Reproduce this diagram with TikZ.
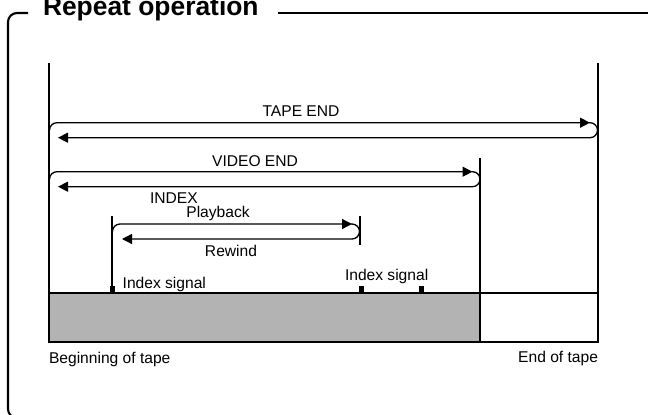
\documentclass[tikz,border=0pt]{standalone}
\usepackage{fontspec}
\setmainfont{Liberation Sans}
\usetikzlibrary{arrows.meta}
\definecolor{tapegray}{RGB}{179,179,179}
\begin{document}
\begin{tikzpicture}[x=1pt,y=-1pt,every node/.style={font=\fontsize{15.6}{18}\selectfont, inner sep=0pt, outer sep=0pt, anchor=base},
  frame/.style={line width=2.1pt},
  post/.style={line width=1.8pt},
  run/.style={line width=1.3pt, rounded corners=7.5pt, -{Triangle[length=10pt,width=10pt]}},
  sigmark/.style={fill=black}]
\useasboundingbox (0,0) rectangle (648,415);
\begin{scope}
\clip (0,0) rectangle (648,415);
\draw[frame,rounded corners=9pt] (28,13) -- (8,13) -- (8,418) -- (660,418);
\draw[frame] (278,13) -- (660,13);
\node[anchor=base west,font=\fontsize{26.4}{30}\selectfont\bfseries] (title) at (43,15) {Repeat operation};
\end{scope}
\fill[tapegray] (49,293) rectangle (480,342);
\draw[post] (49,293) rectangle (598,342);
\draw[post] (49,63) -- (49,342);
\draw[post] (598,63) -- (598,342);
\draw[post] (480,158) -- (480,342);
\draw[post] (112,216) -- (112,293);
\draw[post] (360,216) -- (360,245);
\fill[sigmark] (109.5,286) rectangle (114.5,293);
\fill[sigmark] (358.5,286) rectangle (363.5,293);
\fill[sigmark] (418.5,286) rectangle (423.5,293);
\draw[run] (49.5,130.2) -- (49.5,122.7) -- (590,122.7);
\draw[run] (589,122.7) -- (597.5,122.7) -- (597.5,137.7) -- (58,137.7);
\draw[run] (49.5,179.2) -- (49.5,171.7) -- (472.5,171.7);
\draw[run] (471.5,171.7) -- (480,171.7) -- (480,186.7) -- (58,186.7);
\draw[run] (112.5,231.5) -- (112.5,224) -- (352,224);
\draw[run] (351,224) -- (359.5,224) -- (359.5,239) -- (122,239);
\node (tapeend) at (301,116.7) {TAPE END};
\node (videoend) at (255,166.7) {VIDEO END};
\node[anchor=base west] (index) at (150,203.3) {INDEX};
\node (playback) at (218,217) {Playback};
\node (rewind) at (231,256.7) {Rewind};
\node[anchor=base west] (sigleft) at (122.7,288) {Index signal};
\node[anchor=base west] (sigright) at (345,280.5) {Index signal};
\node[anchor=base west] (tapebegin) at (49,363) {Beginning of tape};
\node[anchor=base east] (tapeend2) at (598,362) {End of tape};
\end{tikzpicture}
\end{document}
